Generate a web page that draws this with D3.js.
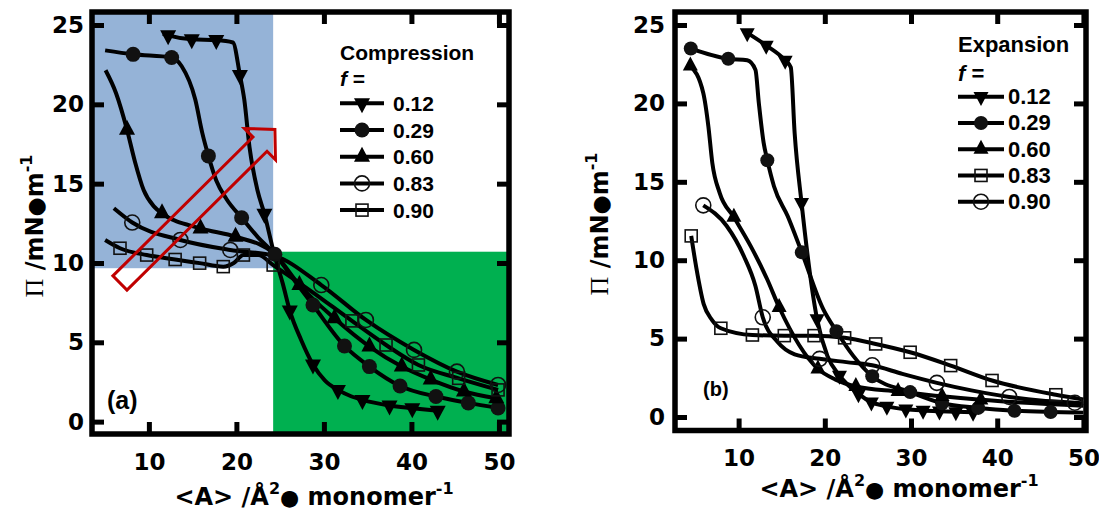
<!DOCTYPE html>
<html>
<head>
<meta charset="utf-8">
<title>Compression / expansion isotherms</title>
<script src="https://d3js.org/d3.v7.min.js"></script>
<style>
  body { margin: 0; background: #fff; }
  svg { display: block; }
</style>
</head>
<body>
<div id="chart-area"></div>
<script>
// ---- values ----
const xTicks = [10, 20, 30, 40, 50]
const yTicks = [0, 5, 10, 15, 20, 25]

// (a) compression: marker points + extra points that shape each curve
const compF = ['0.12', '0.29', '0.60', '0.83', '0.90']
const compSymbols = ['down', 'dot', 'up', 'circle', 'square']

const comp012Marks = [[12.2, 24.35], [14.9, 24.1], [17.7, 24.05], [20.4, 21.85], [23.2, 13.1], [26.1, 7.0], [28.75, 3.6], [31.6, 2.0], [34.4, 1.37], [37.5, 1.02], [40.1, 0.85], [43.0, 0.68]]
const comp012Extra = [[11.6, 24.45], [19.6, 23.9], [20.9, 20.3], [21.5, 17.3], [22.4, 14.6], [24.3, 10.6], [25.3, 8.7], [27.4, 5.15], [30.1, 2.6], [33.1, 1.6]]

const comp029Marks = [[8.2, 23.15], [12.6, 22.95], [16.8, 16.75], [20.6, 12.85], [24.4, 10.55], [28.75, 7.35], [32.35, 4.77], [35.2, 3.47], [38.7, 2.25], [42.8, 1.58], [46.5, 1.18], [49.9, 0.86]]
const comp029Extra = [[5.0, 23.4], [13.75, 22.4], [15.3, 20.3], [16.1, 18.2], [17.7, 15.2], [18.9, 14.0], [22.5, 11.6], [26.7, 8.85]]

const comp060Marks = [[7.5, 18.4], [11.5, 13.13], [15.9, 12.18], [19.9, 11.66], [27.2, 8.61], [31.2, 6.51], [35.2, 4.73], [38.9, 3.47], [42.2, 2.65], [46.0, 1.9], [49.7, 1.47]]
const comp060Extra = [[5.05, 22.15], [6.25, 20.7], [8.4, 16.4], [9.4, 14.6], [10.6, 13.55], [24.3, 10.6]]

const comp083Marks = [[8.1, 12.55], [13.6, 11.45], [19.3, 10.82], [29.7, 8.61], [34.8, 6.41], [40.3, 4.52], [45.2, 3.15], [49.9, 2.31]]
const comp083Extra = [[6.0, 13.45], [24.3, 10.45]]

const comp090Marks = [[6.7, 10.93], [9.75, 10.5], [13.0, 10.22], [15.8, 9.99], [18.5, 9.77], [20.8, 10.5], [24.2, 9.87], [33.2, 6.35], [37.1, 4.83], [40.8, 3.57], [45.4, 2.73], [49.9, 2.0]]
const comp090Extra = [[5.0, 11.45], [19.7, 10.0], [22.5, 10.5], [28.6, 8.2]]

// (b) expansion
const expF = ['0.12', '0.29', '0.60', '0.83', '0.90']
const expSymbols = ['down', 'dot', 'up', 'square', 'circle']

const exp012Marks = [[11.0, 24.5], [13.2, 23.7], [15.4, 22.75], [17.3, 13.67], [19.1, 6.25], [21.7, 2.65], [23.9, 1.48], [25.4, 0.95], [27.2, 0.68], [29.4, 0.5], [31.4, 0.42], [33.3, 0.37], [35.2, 0.33], [37.2, 0.3]]
const exp012Extra = [[16.05, 22.3], [16.5, 18.1], [20.3, 3.9]]

const exp029Marks = [[4.45, 23.5], [8.8, 22.85], [13.33, 16.38], [17.33, 10.5], [21.35, 5.47], [25.5, 2.6], [29.9, 1.59], [33.6, 0.88], [37.8, 0.58], [42.0, 0.4], [46.2, 0.32]]
const exp029Extra = [[11.0, 22.75], [11.95, 22.15], [12.35, 20.0], [12.9, 17.5], [14.1, 14.72], [15.7, 12.8], [19.8, 6.9], [23.3, 3.9], [50.0, 0.28]]

const exp060Marks = [[4.4, 22.4], [9.45, 12.75], [14.7, 7.0], [19.2, 3.07], [23.6, 1.95], [28.5, 1.63], [33.6, 1.32], [38.1, 1.1]]
const exp060Extra = [[5.9, 20.66], [6.5, 18.5], [6.95, 16.2], [7.8, 14.3], [11.4, 10.9], [13.3, 8.8], [21.2, 2.4], [50.0, 0.72]]

const exp083Marks = [[4.5, 11.55], [7.94, 5.66], [11.6, 5.23], [15.3, 5.19], [18.75, 5.19], [22.3, 5.05], [25.9, 4.66], [29.9, 4.13], [34.6, 3.28], [39.4, 2.33], [46.8, 1.42]]
const exp083Extra = [[5.1, 9.5], [5.95, 7.2], [6.9, 6.2], [50.0, 1.12]]

const exp090Marks = [[5.9, 13.5], [12.8, 6.36], [19.4, 3.71], [25.5, 3.3], [33.0, 2.18], [41.4, 1.28], [49.0, 0.91]]
const exp090Extra = [[8.6, 12.2], [10.6, 10.27], [11.95, 8.36], [14.5, 4.8], [16.5, 4.0], [22.5, 3.5], [29.0, 2.75], [37.0, 1.7], [45.0, 1.05], [50.0, 0.88]]

// axis ranges of the two frames
const compXDomain = [3.5, 51.15]
const compYDomain = [-0.78, 25.82]
const expXDomain = [2.62, 50.3]
const expYDomain = [-0.86, 25.83]

// shaded areas and arrow in panel (a), data units
const blueBox = { x: [compXDomain[0], 24.2], y: [9.67, compYDomain[1]] }
const greenBox = { x: [24.2, compXDomain[1]], y: [compYDomain[0], 10.71] }
const arrowTail = [6.69, 8.74]
const arrowTip = [24.4, 18.42]

// ---- build series ----
const compMarks = [comp012Marks, comp029Marks, comp060Marks, comp083Marks, comp090Marks]
const compExtra = [comp012Extra, comp029Extra, comp060Extra, comp083Extra, comp090Extra]
const expMarks = [exp012Marks, exp029Marks, exp060Marks, exp083Marks, exp090Marks]
const expExtra = [exp012Extra, exp029Extra, exp060Extra, exp083Extra, exp090Extra]

const compSeries = compF.map((f, i) => ({ f, symbol: compSymbols[i], marks: compMarks[i], extra: compExtra[i] }))
const expSeries = expF.map((f, i) => ({ f, symbol: expSymbols[i], marks: expMarks[i], extra: expExtra[i] }))

// ---- canvas ----
const WIDTH = 1099
const HEIGHT = 512
const svg = d3.select('#chart-area').append('svg')
	.attr('width', WIDTH)
	.attr('height', HEIGHT)

const TICK = 12
const BOLD_SANS = 'DejaVu Sans, Verdana, sans-serif'
const LEGEND_FONT = 'Liberation Sans, Arial, sans-serif'

function addMarker(sel, sym, M) {
	if (sym === 'dot') {
		return sel.append('circle').attr('r', M.dot).attr('fill', '#111')
	}
	if (sym === 'circle') {
		return sel.append('circle').attr('r', M.ring)
			.attr('fill', 'none').attr('stroke', '#111').attr('stroke-width', 1.6)
	}
	if (sym === 'square') {
		return sel.append('rect')
			.attr('x', -M.sq / 2).attr('y', -M.sq / 2)
			.attr('width', M.sq).attr('height', M.sq)
			.attr('fill', 'none').attr('stroke', '#111').attr('stroke-width', 1.6)
	}
	const w = M.triW, h = M.triH
	const d = sym === 'up'
		? `M0,${-2 * h / 3}L${w / 2},${h / 3}L${-w / 2},${h / 3}Z`
		: `M0,${2 * h / 3}L${w / 2},${-h / 3}L${-w / 2},${-h / 3}Z`
	return sel.append('path').attr('d', d).attr('fill', '#000')
}

// text made of pieces (superscripts, symbol font)
function richText(sel, parts) {
	parts.forEach(p => {
		const t = sel.append('tspan').text(p.t)
		if (p.size) t.attr('font-size', p.size)
		if (p.dy) t.attr('dy', p.dy)
		if (p.family) t.attr('font-family', p.family)
		if (p.weight) t.attr('font-weight', p.weight)
		if (p.style) t.attr('font-style', p.style)
	})
}

function drawPanel(P) {
	const F = P.frame
	const x = d3.scaleLinear().domain(P.xDomain).range([F.LEFT, F.RIGHT])
	const y = d3.scaleLinear().domain(P.yDomain).range([F.BOTTOM, F.TOP])
	const g = svg.append('g')

	// shaded boxes
	P.boxes.forEach(b => {
		g.append('rect')
			.attr('x', x(b.x[0]))
			.attr('y', y(b.y[1]))
			.attr('width', x(b.x[1]) - x(b.x[0]))
			.attr('height', y(b.y[0]) - y(b.y[1]))
			.attr('fill', b.color)
	})

	// curves
	const line = d3.line()
		.x(d => x(d[0]))
		.y(d => y(d[1]))
		.curve(d3.curveMonotoneX)

	P.series.forEach(s => {
		const pts = s.marks.concat(s.extra).sort((a, b) => a[0] - b[0])
		g.append('path')
			.attr('d', line(pts))
			.attr('fill', 'none')
			.attr('stroke', '#000')
			.attr('stroke-width', 4)
			.attr('stroke-linejoin', 'round')
	})

	// markers
	P.series.forEach(s => {
		s.marks.forEach(d => {
			const m = g.append('g').attr('transform', `translate(${x(d[0])},${y(d[1])})`)
			addMarker(m, s.symbol, P.marker)
		})
	})

	// hollow arrow
	if (P.arrow) {
		const t = [x(P.arrow.tail[0]), y(P.arrow.tail[1])]
		const h = [x(P.arrow.tip[0]), y(P.arrow.tip[1])]
		const L = Math.hypot(h[0] - t[0], h[1] - t[1])
		const ux = (h[0] - t[0]) / L, uy = (h[1] - t[1]) / L
		const nx = -uy, ny = ux
		const sw = 10, hw = 22, hl = 21
		const pt = (a, b) => [t[0] + ux * a + nx * b, t[1] + uy * a + ny * b]
		const poly = [pt(0, -sw), pt(L - hl, -sw), pt(L - hl, -hw), pt(L, 0), pt(L - hl, hw), pt(L - hl, sw), pt(0, sw)]
		g.append('polygon')
			.attr('points', poly.map(p => p.join(',')).join(' '))
			.attr('fill', 'none')
			.attr('stroke', '#c00000')
			.attr('stroke-width', 3)
			.attr('stroke-linejoin', 'miter')
	}

	// frame
	g.append('rect')
		.attr('x', F.LEFT).attr('y', F.TOP)
		.attr('width', F.RIGHT - F.LEFT).attr('height', F.BOTTOM - F.TOP)
		.attr('fill', 'none').attr('stroke', '#000').attr('stroke-width', 5.5)

	// axes, ticks pointing inwards on all four sides
	const styleAxis = sel => {
		sel.attr('font-family', BOLD_SANS).attr('font-size', 23).attr('font-weight', 'bold').attr('color', '#000')
		sel.select('.domain').remove()
		sel.selectAll('.tick line').attr('stroke-width', 5)
	}
	g.append('g').attr('transform', `translate(0,${F.BOTTOM})`)
		.call(d3.axisBottom(x).tickValues(xTicks).tickSizeInner(-TICK).tickSizeOuter(0).tickPadding(P.xPad))
		.call(styleAxis)
	g.append('g').attr('transform', `translate(0,${F.TOP})`)
		.call(d3.axisTop(x).tickValues(xTicks).tickSizeInner(-TICK).tickSizeOuter(0).tickFormat(''))
		.call(styleAxis)
	g.append('g').attr('transform', `translate(${F.LEFT},0)`)
		.call(d3.axisLeft(y).tickValues(yTicks).tickSizeInner(-TICK).tickSizeOuter(0).tickPadding(P.yPad))
		.call(styleAxis)
	g.append('g').attr('transform', `translate(${F.RIGHT},0)`)
		.call(d3.axisRight(y).tickValues(yTicks).tickSizeInner(-TICK).tickSizeOuter(0).tickFormat(''))
		.call(styleAxis)

	// axis titles
	const xt = g.append('text')
		.attr('x', P.xTitle.x).attr('y', P.xTitle.y)
		.attr('text-anchor', 'middle')
		.attr('font-family', BOLD_SANS).attr('font-weight', 'bold').attr('font-size', 24)
	richText(xt, [
		{ t: '<A> /Å' },
		{ t: '2', size: 16, dy: -11 },
		{ t: '●', size: 22, dy: 11 },
		{ t: ' monomer', size: 24 },
		{ t: '-1', size: 16, dy: -11 }
	])

	const yt = g.append('text')
		.attr('transform', `translate(${P.yTitle.x},${P.yTitle.y}) rotate(-90)`)
		.attr('text-anchor', 'middle')
		.attr('font-family', BOLD_SANS).attr('font-weight', 'bold').attr('font-size', 24)
	richText(yt, [
		{ t: 'Π', family: 'Liberation Serif, serif', weight: 'normal', size: 26 },
		{ t: ' /mN' },
		{ t: '●', size: 22 },
		{ t: 'm', size: 24 },
		{ t: '-1', size: 16, dy: -11 }
	])

	// panel letter
	g.append('text')
		.attr('x', P.letter.x).attr('y', P.letter.y)
		.attr('font-family', LEGEND_FONT).attr('font-weight', 'bold').attr('font-size', P.letter.size)
		.text(P.letter.text)

	// legend
	const lg = P.legend
	const leg = g.append('g')
		.attr('font-family', LEGEND_FONT).attr('font-weight', 'bold').attr('font-size', lg.size)
	leg.append('text').attr('x', lg.x).attr('y', lg.titleY).text(lg.title)
	const fl = leg.append('text').attr('x', lg.x).attr('y', lg.fY)
	richText(fl, [{ t: 'f', style: 'italic' }, { t: ' =' }])

	P.series.forEach((s, i) => {
		const row = leg.append('g').attr('transform', `translate(0,${lg.rowY + i * lg.rowGap})`)
		row.append('line')
			.attr('x1', lg.x).attr('x2', lg.lineEnd)
			.attr('stroke', '#000').attr('stroke-width', 4)
		const m = row.append('g').attr('transform', `translate(${(lg.x + lg.lineEnd) / 2},0)`)
		addMarker(m, s.symbol, P.marker)
		row.append('text').attr('x', lg.textX).attr('y', 7.5).text(s.f)
	})
}

drawPanel({
	frame: { LEFT: 92, RIGHT: 509, TOP: 12, BOTTOM: 434 },
	xDomain: compXDomain,
	yDomain: compYDomain,
	xPad: 20, yPad: 8,
	series: compSeries,
	boxes: [
		{ x: blueBox.x, y: blueBox.y, color: '#95b3d7' },
		{ x: greenBox.x, y: greenBox.y, color: '#00b050' }
	],
	arrow: { tail: arrowTail, tip: arrowTip },
	marker: { dot: 7.5, ring: 7.5, sq: 12, triW: 16, triH: 15 },
	xTitle: { x: 314, y: 505 },
	yTitle: { x: 43, y: 226 },
	letter: { text: '(a)', x: 107, y: 409, size: 25 },
	legend: { title: 'Compression', x: 340, lineEnd: 384, textX: 393, titleY: 60, fY: 86, rowY: 103.3, rowGap: 26.7, size: 21 }
})

drawPanel({
	frame: { LEFT: 675, RIGHT: 1086, TOP: 12, BOTTOM: 430.5 },
	xDomain: expXDomain,
	yDomain: expYDomain,
	xPad: 19, yPad: 10,
	series: expSeries,
	boxes: [],
	arrow: null,
	marker: { dot: 7, ring: 7.5, sq: 12, triW: 15, triH: 14 },
	xTitle: { x: 899, y: 497 },
	yTitle: { x: 608, y: 224 },
	letter: { text: '(b)', x: 703, y: 396, size: 20 },
	legend: { title: 'Expansion', x: 958, lineEnd: 1004, textX: 1008, titleY: 51.5, fY: 81, rowY: 96.7, rowGap: 26.25, size: 22 }
})
</script>
</body>
</html>
